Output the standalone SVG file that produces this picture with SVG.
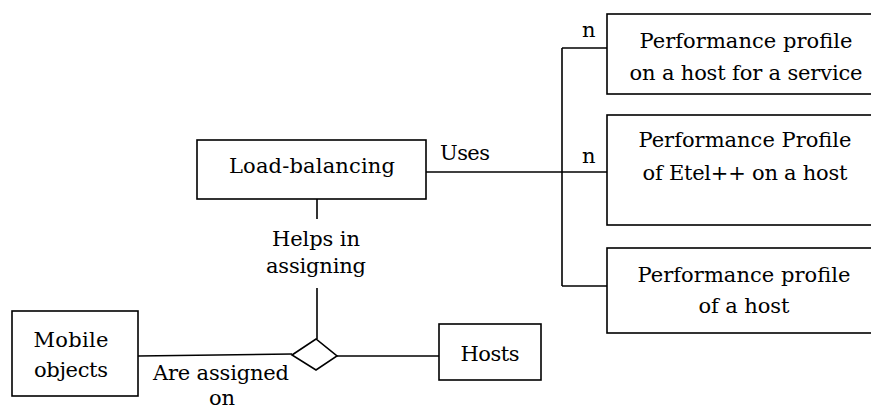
<svg xmlns="http://www.w3.org/2000/svg" width="871" height="414" viewBox="0 0 871 414">
<style>
.box{fill:#fff;stroke:#000;stroke-width:1.6}
.ln{fill:none;stroke:#000;stroke-width:1.6}
text{font-family:"DejaVu Serif","Liberation Serif",serif;font-size:21px;fill:#000}
.c{text-anchor:middle}
</style>
<rect width="871" height="414" fill="#fff"/>
<g id="connectors">
<line class="ln" x1="426" y1="172" x2="562" y2="172"/>
<line class="ln" x1="562" y1="48" x2="562" y2="286"/>
<line class="ln" x1="562" y1="48" x2="607" y2="48"/>
<line class="ln" x1="562" y1="172" x2="607" y2="172"/>
<line class="ln" x1="562" y1="286" x2="607" y2="286"/>
<line class="ln" x1="317" y1="199" x2="317" y2="219"/>
<line class="ln" x1="317" y1="288" x2="317" y2="339"/>
<line class="ln" x1="138" y1="356" x2="292" y2="354"/>
<line class="ln" x1="337" y1="356" x2="439" y2="356"/>
<text x="440" y="160" textLength="50" lengthAdjust="spacing">Uses</text>
<text x="582" y="37">n</text>
<text x="582" y="163">n</text>
<text class="c" x="316" y="246" textLength="88" lengthAdjust="spacing">Helps in</text>
<text class="c" x="316" y="273" textLength="100" lengthAdjust="spacing">assigning</text>
<text class="c" x="221" y="380" textLength="136" lengthAdjust="spacing">Are assigned</text>
<text class="c" x="222" y="405">on</text>
</g>
<g id="load-balancing">
<rect class="box" x="197" y="140" width="229" height="59"/>
<text class="c" x="312" y="173" textLength="166" lengthAdjust="spacing">Load-balancing</text>
</g>
<g id="perf-service">
<rect class="box" x="607" y="14" width="270" height="80"/>
<text class="c" x="746" y="48" textLength="213" lengthAdjust="spacing">Performance profile</text>
<text class="c" x="746" y="80" textLength="233" lengthAdjust="spacing">on a host for a service</text>
</g>
<g id="perf-etel">
<rect class="box" x="607" y="115" width="270" height="110"/>
<text class="c" x="745" y="147" textLength="213" lengthAdjust="spacing">Performance Profile</text>
<text class="c" x="745" y="180" textLength="205" lengthAdjust="spacing">of Etel++ on a host</text>
</g>
<g id="perf-host">
<rect class="box" x="607" y="248" width="270" height="85"/>
<text class="c" x="744" y="282" textLength="213" lengthAdjust="spacing">Performance profile</text>
<text class="c" x="744" y="313" textLength="91" lengthAdjust="spacing">of a host</text>
</g>
<g id="assign">
<polygon class="box" points="292,355 316,339 337,356 316,370"/>
</g>
<g id="mobile-objects">
<rect class="box" x="12" y="311" width="126" height="85"/>
<text class="c" x="71" y="347" textLength="75" lengthAdjust="spacing">Mobile</text>
<text class="c" x="71" y="377" textLength="74" lengthAdjust="spacing">objects</text>
</g>
<g id="hosts">
<rect class="box" x="439" y="324" width="102" height="56"/>
<text class="c" x="490" y="361" textLength="59" lengthAdjust="spacing">Hosts</text>
</g>
</svg>
